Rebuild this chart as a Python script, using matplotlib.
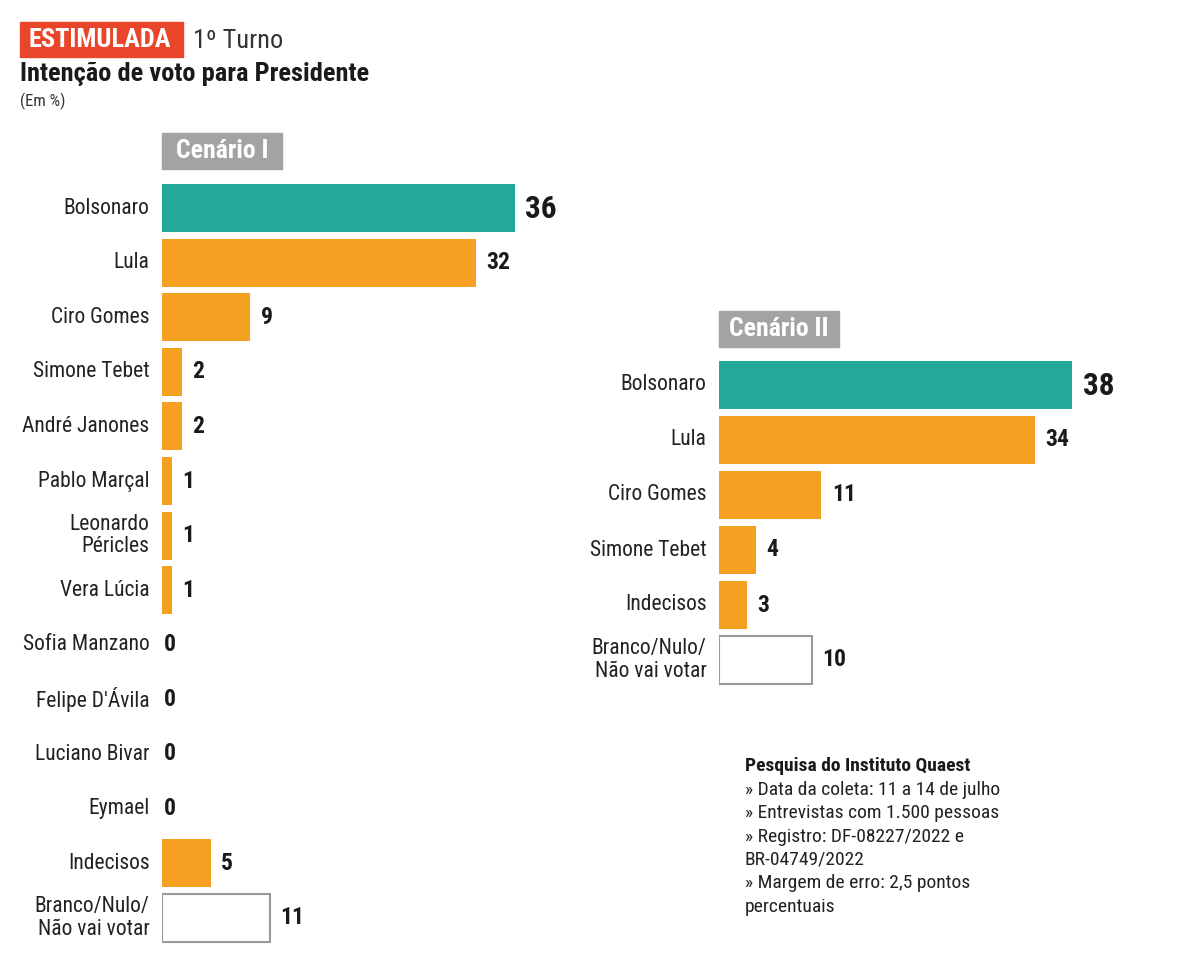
import matplotlib.pyplot as plt
from matplotlib.patches import Rectangle
import matplotlib

matplotlib.rcParams['font.family'] = ['Roboto Condensed', 'Roboto', 'DejaVu Sans']

# Cenário I
names1 = ['Bolsonaro', 'Lula', 'Ciro Gomes', 'Simone Tebet', 'André Janones',
          'Pablo Marçal', 'Leonardo\nPéricles', 'Vera Lúcia', 'Sofia Manzano',
          "Felipe D'Ávila", 'Luciano Bivar', 'Eymael', 'Indecisos',
          'Branco/Nulo/\nNão vai votar']
vals1 = [36, 32, 9, 2, 2, 1, 1, 1, 0, 0, 0, 0, 5, 11]

# Cenário II
names2 = ['Bolsonaro', 'Lula', 'Ciro Gomes', 'Simone Tebet', 'Indecisos',
          'Branco/Nulo/\nNão vai votar']
vals2 = [38, 34, 11, 4, 3, 10]

notes = ['» Data da coleta: 11 a 14 de julho',
         '» Entrevistas com 1.500 pessoas',
         '» Registro: DF-08227/2022 e',
         'BR-04749/2022',
         '» Margem de erro: 2,5 pontos',
         'percentuais']

TEAL = '#22a99a'
ORANGE = '#f5a020'
W, H = 1200, 972

fig = plt.figure(figsize=(12, 9.72), dpi=100)


def panel(rect, names, vals, xmax):
    ax = fig.add_axes(rect)
    y = list(range(len(names)))
    colors = []
    for n in names:
        if n == 'Bolsonaro':
            colors.append(TEAL)
        elif n.startswith('Branco'):
            colors.append('white')
        else:
            colors.append(ORANGE)
    bars = ax.barh(y, vals, height=0.88, color=colors, linewidth=0)
    for b, n in zip(bars, names):
        if n.startswith('Branco'):
            b.set_edgecolor('#9a9a9a')
            b.set_linewidth(1.5)
    for i, (n, v) in enumerate(zip(names, vals)):
        big = n == 'Bolsonaro'
        ax.annotate(str(v), (v, i), xytext=(1 if v == 0 else 7.5, -1 if big else 0),
                    textcoords='offset points', va='center', ha='left',
                    fontsize=22.5 if big else 17, fontweight='bold', color='#1a1a1a',
                    annotation_clip=False)
        ax.annotate(n, (0, i), xytext=(-9, 0), textcoords='offset points',
                    va='center', ha='right', fontsize=15.5, color='#222222',
                    linespacing=1.1, annotation_clip=False)
    ax.set_xlim(0, xmax)
    ax.set_ylim(len(names) - 0.5, -0.5)
    ax.axis('off')
    return ax


# left panel: rows centred 208..918 px, 54.6 px apart; ~9.8 px per point
sp = 54.6
top1 = 208 - sp / 2
panel([162 / W, 1 - (top1 + 14 * sp) / H, 380 / W, 14 * sp / H], names1, vals1, 380 / 9.8)

# right panel: rows 55 px apart; ~9.3 px per point
top2 = 385 - 55 / 2
panel([719 / W, 1 - (top2 + 6 * 55) / H, 380 / W, 6 * 55 / H], names2, vals2, 380 / 9.3)

# header
fig.patches.append(Rectangle((20 / W, 1 - 57 / H), 163 / W, 35 / H,
                             transform=fig.transFigure, color='#e8452a'))
fig.text(100 / W, 1 - 40 / H, 'ESTIMULADA', color='white', fontsize=19,
         fontweight='bold', ha='center', va='center')
fig.text(193 / W, 1 - 41 / H, '1º Turno', color='#333333', fontsize=19,
         ha='left', va='center')
fig.text(20 / W, 1 - 74 / H, 'Intenção de voto para Presidente', color='#1a1a1a',
         fontsize=19, fontweight='bold', ha='left', va='center')
fig.text(20 / W, 1 - 101 / H, '(Em %)', color='#333333', fontsize=12,
         ha='left', va='center')

# scenario tags
for x0, y0, w, label in [(162, 133, 120, 'Cenário I'), (719, 311, 120, 'Cenário II')]:
    fig.patches.append(Rectangle((x0 / W, 1 - (y0 + 36) / H), w / W, 36 / H,
                                 transform=fig.transFigure, color='#a3a3a3'))
    fig.text((x0 + w / 2) / W, 1 - (y0 + 18) / H, label, color='white',
             fontsize=18.5, fontweight='bold', ha='center', va='center')

# source box
fig.text(745 / W, 1 - 766 / H, 'Pesquisa do Instituto Quaest', color='#1a1a1a',
         fontsize=14, fontweight='bold', ha='left', va='center')
for k, line in enumerate(notes):
    fig.text(745 / W, 1 - (790 + 23.3 * k) / H, line, color='#222222',
             fontsize=14, ha='left', va='center')

fig.savefig('out.png', dpi=100, facecolor='white')
